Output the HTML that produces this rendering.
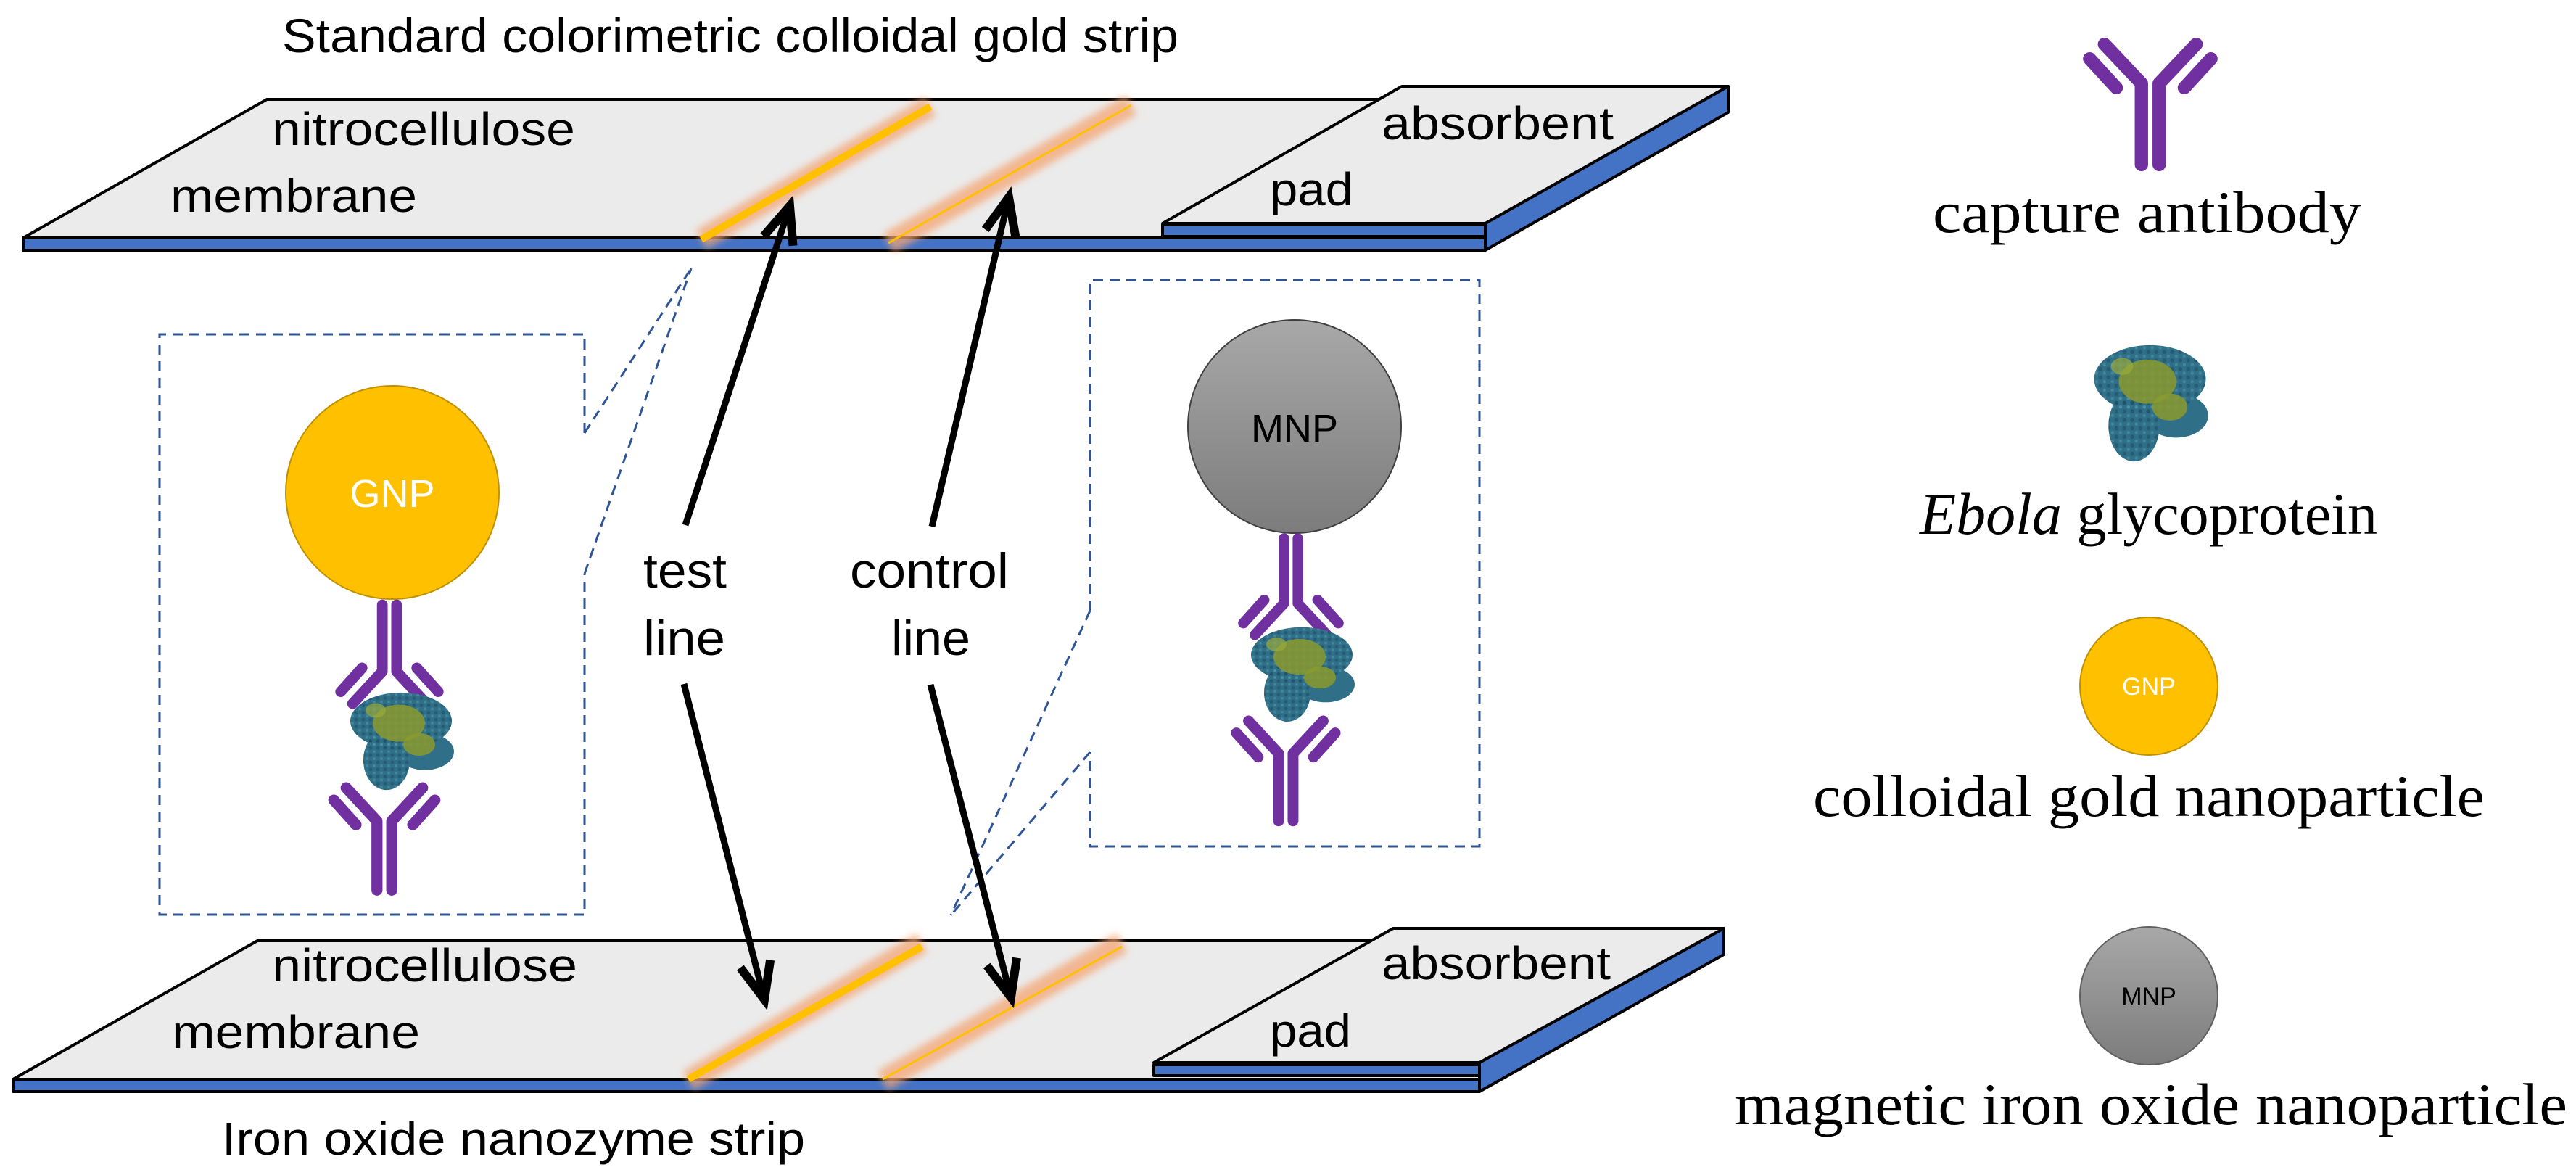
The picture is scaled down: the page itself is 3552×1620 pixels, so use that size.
<!DOCTYPE html>
<html><head><meta charset="utf-8"><style>
html,body{margin:0;padding:0;background:#fff;}
svg{display:block;}
.c{font-family:"Liberation Sans",sans-serif;fill:#000;}
.s{font-family:"Liberation Serif",serif;fill:#000;}
</style></head><body>
<svg width="3552" height="1620" viewBox="0 0 3552 1620" xmlns="http://www.w3.org/2000/svg">
<defs>
<filter id="blur" x="-20%" y="-20%" width="140%" height="140%"><feGaussianBlur stdDeviation="5"/></filter>
<marker id="ah" markerUnits="userSpaceOnUse" markerWidth="80" markerHeight="80" viewBox="-50 -30 60 60" refX="0" refY="0" orient="auto" overflow="visible">
<path d="M-38,-16 L0,0 L-38,16" fill="none" stroke="#000" stroke-width="9" stroke-linejoin="miter"/>
</marker>
<radialGradient id="mg" cx="50%" cy="30%" r="70%"><stop offset="0" stop-color="#a6a6a6"/><stop offset="1" stop-color="#7a7a7a"/></radialGradient>
<linearGradient id="mg2" x1="0" y1="0" x2="0" y2="1"><stop offset="0" stop-color="#a8a8a8"/><stop offset="1" stop-color="#7c7c7c"/></linearGradient>
<pattern id="dots" width="10" height="10" patternUnits="userSpaceOnUse">
<circle cx="3" cy="3" r="2.5" fill="#1f5066"/><circle cx="8" cy="8" r="2" fill="#4f95a8"/>
</pattern>
<g id="ab" fill="none" stroke="#7030A0" stroke-width="18" stroke-linecap="round" stroke-linejoin="round">
<path d="M-62,6 L-12,60 L-12,172"/>
<path d="M62,6 L12,60 L12,172"/>
<path d="M-82,26 L-46,66"/>
<path d="M82,26 L46,66"/>
</g>
<g id="prot">
<ellipse cx="75" cy="45" rx="70" ry="40" fill="#2f6f87"/>
<ellipse cx="55" cy="100" rx="32" ry="42" fill="#2f6f87"/>
<ellipse cx="108" cy="88" rx="40" ry="26" fill="#2f6f87"/>
<ellipse cx="75" cy="45" rx="70" ry="40" fill="url(#dots)" opacity="0.6"/>
<ellipse cx="55" cy="100" rx="32" ry="42" fill="url(#dots)" opacity="0.6"/>
<ellipse cx="72" cy="48" rx="36" ry="26" fill="#8a9a2e" opacity="0.85"/>
<ellipse cx="100" cy="78" rx="22" ry="16" fill="#8a9a2e" opacity="0.85"/>
<ellipse cx="40" cy="30" rx="14" ry="10" fill="#9aab3a" opacity="0.7"/>
</g>
</defs>

<!-- Title -->
<text class="c" x="389" y="72" font-size="66" textLength="1236" lengthAdjust="spacingAndGlyphs">Standard colorimetric colloidal gold strip</text>

<!-- TOP STRIP -->
<g stroke="#000" stroke-width="4" stroke-linejoin="round">
<rect x="32" y="328" width="2016" height="17" fill="#4472C4"/>
<polygon points="368,137 2383,137 2048,328 32,328" fill="#EBEBEB"/>
</g>
<g filter="url(#blur)">
<line x1="967" y1="330" x2="1283" y2="147" stroke="#F4A672" stroke-width="30" opacity="0.75"/>
<line x1="1225" y1="335" x2="1560" y2="145" stroke="#F4A672" stroke-width="30" opacity="0.75"/>
</g>
<line x1="967" y1="330" x2="1283" y2="147" stroke="#FFC000" stroke-width="10"/>
<line x1="1225" y1="335" x2="1560" y2="145" stroke="#FFC000" stroke-width="3"/>
<g stroke="#000" stroke-width="4" stroke-linejoin="round">
<rect x="1603" y="310" width="445" height="16" fill="#4472C4"/>
<polygon points="2048,308 2383,119 2383,155 2048,345" fill="#4472C4"/>
<polygon points="1933,119 2383,119 2048,308 1603,308" fill="#EBEBEB"/>
</g>
<text class="c" x="375" y="200" font-size="64" textLength="418" lengthAdjust="spacingAndGlyphs">nitrocellulose</text>
<text class="c" x="235" y="292" font-size="64" textLength="340" lengthAdjust="spacingAndGlyphs">membrane</text>
<text class="c" x="1905" y="192" font-size="64" textLength="320" lengthAdjust="spacingAndGlyphs">absorbent</text>
<text class="c" x="1751" y="283" font-size="64" textLength="115" lengthAdjust="spacingAndGlyphs">pad</text>

<!-- BOTTOM STRIP -->
<g stroke="#000" stroke-width="4" stroke-linejoin="round">
<rect x="18" y="1488" width="2022" height="17" fill="#4472C4"/>
<polygon points="355,1297 2377,1297 2040,1488 18,1488" fill="#EBEBEB"/>
</g>
<g filter="url(#blur)">
<line x1="949" y1="1490" x2="1271" y2="1300" stroke="#F4A672" stroke-width="30" opacity="0.75"/>
<line x1="1217" y1="1490" x2="1547" y2="1300" stroke="#F4A672" stroke-width="30" opacity="0.75"/>
</g>
<line x1="949" y1="1488" x2="1271" y2="1305" stroke="#FFC000" stroke-width="10"/>
<line x1="1217" y1="1488" x2="1547" y2="1305" stroke="#FFC000" stroke-width="3"/>
<g stroke="#000" stroke-width="4" stroke-linejoin="round">
<rect x="1591" y="1468" width="449" height="15" fill="#4472C4"/>
<polygon points="2040,1465 2377,1280 2377,1316 2040,1505" fill="#4472C4"/>
<polygon points="1921,1280 2377,1280 2040,1465 1591,1465" fill="#EBEBEB"/>
</g>
<text class="c" x="375" y="1353" font-size="64" textLength="421" lengthAdjust="spacingAndGlyphs">nitrocellulose</text>
<text class="c" x="237" y="1445" font-size="64" textLength="342" lengthAdjust="spacingAndGlyphs">membrane</text>
<text class="c" x="1905" y="1350" font-size="64" textLength="316" lengthAdjust="spacingAndGlyphs">absorbent</text>
<text class="c" x="1751" y="1443" font-size="64" textLength="112" lengthAdjust="spacingAndGlyphs">pad</text>
<text class="c" x="306" y="1592" font-size="64" textLength="804" lengthAdjust="spacingAndGlyphs">Iron oxide nanozyme strip</text>

<!-- Dashed callouts -->
<g fill="none" stroke="#2F5597" stroke-width="3" stroke-dasharray="14 9">
<path d="M806,597 L806,461 L220,461 L220,1261 L806,1261 L806,791"/>
<path d="M806,597 L953,370"/>
<path d="M806,791 L953,370"/>
<path d="M1503,842 L1503,386 L2040,386 L2040,1167 L1503,1167 L1503,1037"/>
<path d="M1503,842 L1311,1262"/>
<path d="M1503,1037 L1311,1262"/>
</g>

<!-- Left box content -->
<circle cx="541" cy="679" r="147" fill="#FFC000" stroke="#BF9000" stroke-width="2"/>
<text class="c" x="541" y="699" font-size="54" fill="#fff" text-anchor="middle" style="fill:#fff">GNP</text>
<use href="#ab" transform="translate(537,975) scale(0.82,-0.82)"/>
<use href="#prot" transform="translate(478,950) scale(1.0,0.98)"/>
<use href="#ab" transform="translate(530,1081) scale(0.85)"/>

<!-- Right box content -->
<circle cx="1785" cy="588" r="147" fill="url(#mg2)" stroke="#404040" stroke-width="2"/>
<text class="c" x="1785" y="609" font-size="54" text-anchor="middle">MNP</text>
<use href="#ab" transform="translate(1780,880) scale(0.8,-0.8)"/>
<use href="#prot" transform="translate(1720,860) scale(1.0,0.95)"/>
<use href="#ab" transform="translate(1773,989) scale(0.83)"/>

<!-- Arrows -->
<g stroke="#000" stroke-width="9" fill="none" marker-end="url(#ah)">
<line x1="945" y1="724" x2="1089" y2="284"/>
<line x1="943" y1="943" x2="1054" y2="1378"/>
<line x1="1285" y1="726" x2="1391" y2="272"/>
<line x1="1283" y1="944" x2="1394" y2="1375"/>
</g>
<text class="c" x="887" y="810" font-size="68" textLength="115" lengthAdjust="spacingAndGlyphs">test</text>
<text class="c" x="887" y="903" font-size="68" textLength="113" lengthAdjust="spacingAndGlyphs">line</text>
<text class="c" x="1172" y="810" font-size="68" textLength="219" lengthAdjust="spacingAndGlyphs">control</text>
<text class="c" x="1229" y="903" font-size="68" textLength="109" lengthAdjust="spacingAndGlyphs">line</text>

<!-- Legend -->
<use href="#ab" transform="translate(2965,55) scale(1.02,1.0)"/>
<text class="s" x="2665" y="320" font-size="82" textLength="591" lengthAdjust="spacingAndGlyphs">capture antibody</text>
<use href="#prot" transform="translate(2882,470) scale(1.1,1.17)"/>
<text class="s" x="2647" y="736" font-size="82" textLength="631" lengthAdjust="spacingAndGlyphs"><tspan font-style="italic">Ebola</tspan> glycoprotein</text>
<circle cx="2963" cy="946" r="95" fill="#FFC000" stroke="#BF9000" stroke-width="2"/>
<text class="c" x="2963" y="958" font-size="34" text-anchor="middle" style="fill:#fff">GNP</text>
<text class="s" x="2500" y="1125" font-size="82" textLength="926" lengthAdjust="spacingAndGlyphs">colloidal gold nanoparticle</text>
<circle cx="2963" cy="1373" r="95" fill="url(#mg2)" stroke="#606060" stroke-width="2"/>
<text class="c" x="2963" y="1385" font-size="34" text-anchor="middle">MNP</text>
<text class="s" x="2392" y="1550" font-size="82" textLength="1148" lengthAdjust="spacingAndGlyphs">magnetic iron oxide nanoparticle</text>
</svg>
</body></html>
